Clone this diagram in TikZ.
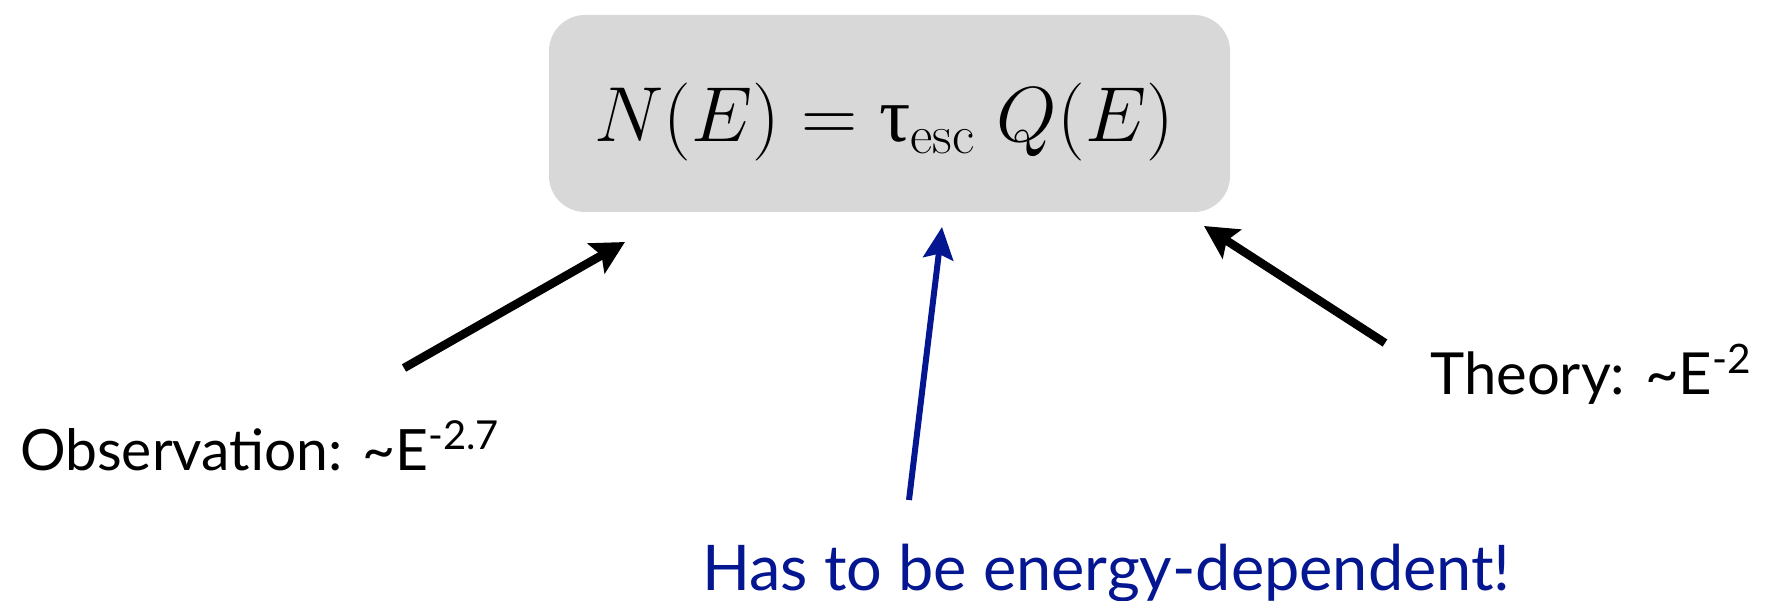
\RequirePackage{fix-cm}
\documentclass[tikz,border=0pt]{standalone}
\usepackage[no-math]{fontspec}
\setmainfont{Lato}
\newfontfamily\greekserif{Liberation Serif}
\usetikzlibrary{arrows.meta}
\definecolor{boxgray}{RGB}{216,216,216}
\definecolor{darkblue}{RGB}{5,22,145}
\tikzset{
  eqbox/.style={fill=boxgray, rounded corners=36pt, minimum width=681pt, minimum height=197pt, inner sep=0pt},
  lbl/.style={anchor=base west, inner sep=0pt},
  blackarrow/.style={line width=8.5pt, -{Stealth[length=33pt, width=34pt, inset=6pt]}},
  bluearrow/.style={line width=6pt, darkblue, -{Stealth[length=32pt, width=30pt, inset=5pt]}}
}
\begin{document}
\begin{tikzpicture}[x=1pt,y=-1pt]
\useasboundingbox (0,0) rectangle (1775,601);
\node[eqbox] (eq) at (889.5,113.5) {};
\node[anchor=base, inner sep=0pt] (eqtext) at (884,142) {\fontsize{78}{90}\selectfont $N(E) = \mbox{\greekserif τ}_{\mathrm{esc}}\; Q(E)$};
\node[lbl, font=\fontsize{57}{66}\selectfont] (obs) at (20,470) {Observation: \textasciitilde E\textsuperscript{-2.7}};
\node[lbl, font=\fontsize{58}{66}\selectfont] (theo) at (1430,395) {Theory: \textasciitilde E\textsuperscript{-2}};
\node[lbl, font=\fontsize{63}{72}\selectfont, text=darkblue] (dep) at (702,590) {Has to be energy-dependent!};
\coordinate (obsT) at (404,368);
\coordinate (obsH) at (625,242);
\coordinate (depT) at (909,500);
\coordinate (depH) at (942,227);
\coordinate (theoT) at (1385,343);
\coordinate (theoH) at (1204,226);
\draw[blackarrow] (obsT) -- (obsH);
\draw[bluearrow] (depT) -- (depH);
\draw[blackarrow] (theoT) -- (theoH);
\end{tikzpicture}
\end{document}
